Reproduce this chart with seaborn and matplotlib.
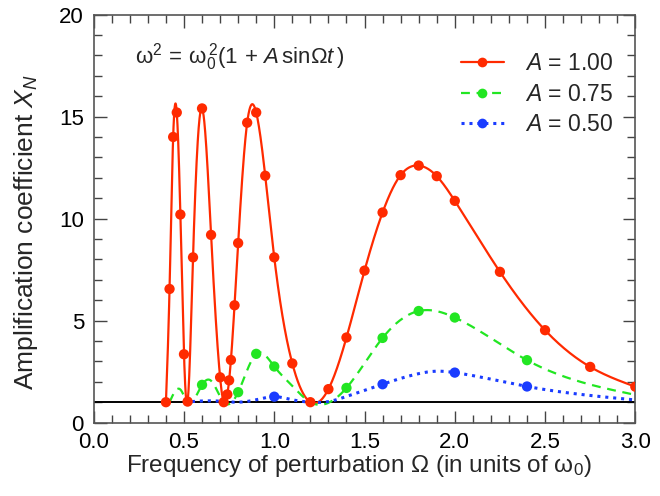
import numpy as np
import pandas as pd
import matplotlib
matplotlib.use("Agg")
import matplotlib.pyplot as plt
from matplotlib.lines import Line2D
from matplotlib.ticker import MultipleLocator, FormatStrFormatter
import seaborn as sns

# Amplification coefficient vs. perturbation frequency, three amplitudes
red_x = [0.40, 0.42, 0.44, 0.46, 0.48, 0.50, 0.52, 0.55, 0.60, 0.65, 0.70, 0.72,
         0.74, 0.75, 0.76, 0.78, 0.80, 0.85, 0.90, 0.95, 1.00, 1.10, 1.20, 1.30,
         1.40, 1.50, 1.60, 1.70, 1.80, 1.90, 2.00, 2.25, 2.50, 2.75, 3.00]
red_y = [1.0, 6.55, 14.0, 15.2, 10.2, 3.35, 1.03, 8.1, 15.4, 9.2, 2.22, 1.0,
         1.38, 2.07, 3.07, 5.75, 8.8, 14.7, 15.2, 12.1, 8.1, 2.9, 1.0, 1.64,
         4.17, 7.45, 10.3, 12.13, 12.6, 12.08, 10.87, 7.39, 4.53, 2.73, 1.76]

green_x = [0.42, 0.48, 0.52, 0.60, 0.65, 0.72, 0.80, 0.90, 1.00, 1.10, 1.20,
           1.40, 1.60, 1.80, 2.00, 2.40, 3.00]
green_y = [1.0, 1.62, 1.0, 1.85, 2.05, 1.0, 1.49, 3.37, 2.75, 1.8, 1.0,
           1.70, 4.15, 5.47, 5.15, 3.06, 1.36]
green_marked = [0.60, 0.80, 0.90, 1.00, 1.40, 1.60, 1.80, 2.00, 2.40]

blue_x = [0.50, 0.60, 0.70, 0.80, 0.90, 1.00, 1.10, 1.20, 1.30, 1.40, 1.60,
          1.80, 1.90, 2.00, 2.40, 3.00]
blue_y = [1.0, 1.06, 1.05, 1.0, 1.12, 1.27, 1.12, 1.0, 1.03, 1.28, 1.88,
          2.40, 2.52, 2.45, 1.77, 1.11]
blue_marked = [1.00, 1.60, 2.00, 2.40]

labels = ["$A$ = 1.00", "$A$ = 0.75", "$A$ = 0.50"]
colors = ["#ff2a00", "#22e622", "#1a3cff"]


def natural_spline(x, y, n=40):
    """Smooth curve through the points (natural cubic spline)."""
    x = np.asarray(x, float)
    y = np.asarray(y, float)
    m = len(x)
    h = np.diff(x)
    A = np.zeros((m, m))
    b = np.zeros(m)
    A[0, 0] = A[-1, -1] = 1.0
    for i in range(1, m - 1):
        A[i, i - 1] = h[i - 1]
        A[i, i] = 2 * (h[i - 1] + h[i])
        A[i, i + 1] = h[i]
        b[i] = 3 * ((y[i + 1] - y[i]) / h[i] - (y[i] - y[i - 1]) / h[i - 1])
    c = np.linalg.solve(A, b)
    xs, ys = [], []
    for i in range(m - 1):
        t = np.linspace(0, h[i], n, endpoint=(i == m - 2))
        bi = (y[i + 1] - y[i]) / h[i] - h[i] * (2 * c[i] + c[i + 1]) / 3
        di = (c[i + 1] - c[i]) / (3 * h[i])
        xs.append(x[i] + t)
        ys.append(y[i] + bi * t + c[i] * t ** 2 + di * t ** 3)
    return np.concatenate(xs), np.concatenate(ys)


sns.set_theme(style="ticks")
plt.rcParams["font.family"] = ["Liberation Sans", "DejaVu Sans"]
plt.rcParams["mathtext.fontset"] = "custom"
plt.rcParams["mathtext.rm"] = "Liberation Sans"
plt.rcParams["mathtext.it"] = "Liberation Sans:italic"
plt.rcParams["mathtext.bf"] = "Liberation Sans:bold"

fig = plt.figure(figsize=(6.6, 4.96), dpi=100)
ax = fig.add_axes([0.142, 0.148, 0.8206, 0.8226])

# reference level X_N = 1
ax.axhline(1.0, color="black", lw=1.4, zorder=1)

series = [
    (red_x, red_y, red_x, "-", 1.6),
    (green_x, green_y, green_marked, (0, (4, 3)), 1.6),
    (blue_x, blue_y, blue_marked, (0, (1, 1.6)), 2.2),
]
handles = []
for (xv, yv, mx, ls, lw), col, lab in zip(series, colors, labels):
    sx, sy = natural_spline(xv, yv)
    curve = pd.DataFrame({"x": sx, "y": sy})
    sns.lineplot(data=curve, x="x", y="y", ax=ax, color=col, lw=lw,
                 linestyle=ls, sort=False, estimator=None, zorder=3)
    pts = pd.DataFrame({"x": xv, "y": yv})
    pts = pts[pts["x"].round(3).isin(np.round(mx, 3))]
    sns.scatterplot(data=pts, x="x", y="y", ax=ax, color=col, s=55,
                    edgecolor="none", zorder=4)
    handles.append(Line2D([], [], color=col, lw=lw, linestyle=ls,
                          marker="o", markersize=7, markeredgewidth=0))

ax.set_xlim(0, 3)
ax.set_ylim(0, 20)
ax.xaxis.set_major_locator(MultipleLocator(0.5))
ax.xaxis.set_minor_locator(MultipleLocator(0.1))
ax.yaxis.set_major_locator(MultipleLocator(5))
ax.yaxis.set_minor_locator(MultipleLocator(1))
ax.xaxis.set_major_formatter(FormatStrFormatter("%.1f"))
ax.tick_params(which="both", direction="in", top=True, right=True,
               colors="#444444", labelcolor="black", labelsize=16, width=1.0)
ax.tick_params(which="major", length=9, pad=7)
ax.tick_params(which="minor", length=6)
for sp in ax.spines.values():
    sp.set_color("#555555")
    sp.set_linewidth(1.2)

ax.set_xlabel(r"Frequency of perturbation Ω (in units of $\mathrm{ω}_0$)",
              fontsize=17.5, labelpad=3)
ax.xaxis.set_label_coords(0.489, -0.075)
ax.set_ylabel(r"Amplification coefficient $X_N$", fontsize=19)
ax.yaxis.set_label_coords(-0.099, 0.467)

ax.text(0.23, 17.9,
        r"$\mathrm{ω}^2\,=\,\mathrm{ω}_0^{\,2}(1\,+\,A\,\mathrm{sinΩ}t\,)$",
        fontsize=16, va="center", ha="left")

leg = ax.legend(handles, labels, loc="upper right", frameon=False, fontsize=16.5,
                handlelength=1.9, handletextpad=0.9, labelspacing=0.32,
                bbox_to_anchor=(0.9755, 0.93), borderaxespad=0)

fig.savefig("out.png", dpi=100)
